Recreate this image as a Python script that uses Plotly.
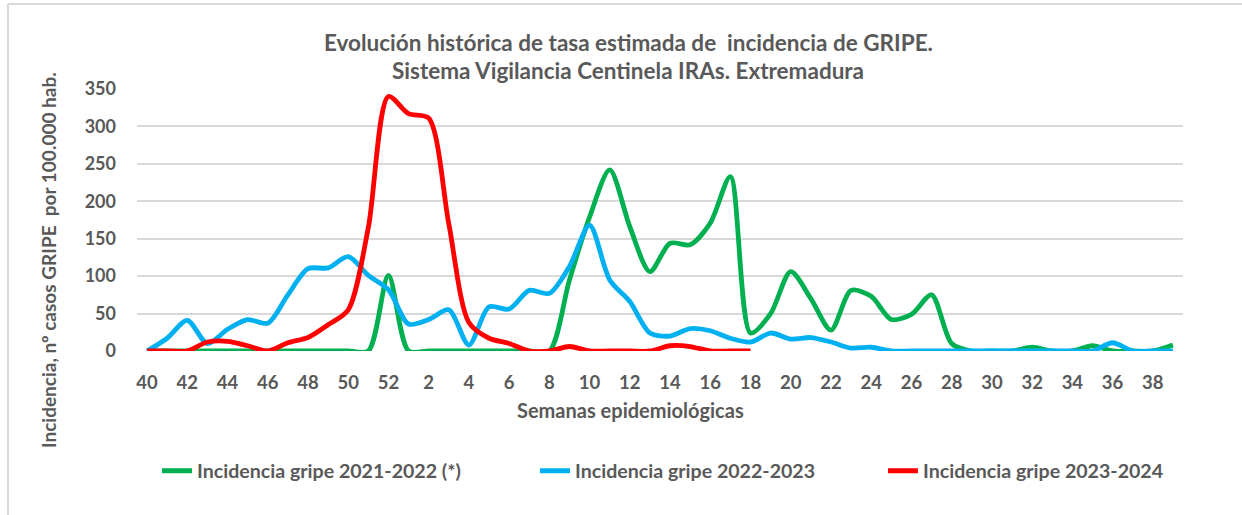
import plotly.graph_objects as go

weeks = [str(w) for w in list(range(40, 53)) + list(range(1, 40))]
tick_labels = [w for k, w in enumerate(weeks) if k % 2 == 0]

gripe_2021_2022 = [0, 0, 0, 0, 0, 0, 0, 0, 0, 0, 0, 0, 101, 0, 0, 0, 0, 0, 0, 0,
                   0, 95, 179, 242, 166, 106, 144, 142, 171, 233, 24, 50, 106, 70, 28, 81,
                   73, 42, 49, 75, 10, 0, 0, 0, 5, 0, 0, 7, 0, 0, 0, 8]
gripe_2022_2023 = [0, 17, 41, 10, 29, 42, 37, 75, 110, 111, 126, 101, 82, 36, 42, 55,
                   8, 59, 56, 81, 77, 113, 168, 95, 66, 24, 20, 30, 27, 17, 12, 24, 16,
                   18, 12, 4, 5, 0, 0, 0, 0, 0, 0, 0, 0, 0, 0, 0, 11, 0, 0, 0]
gripe_2023_2024 = [0, 0, 0, 12, 13, 7, 0, 11, 18, 35, 55, 165, 340, 317, 311, 170, 38,
                   17, 10, 0, 0, 6, 0, 0, 0, 0, 7, 6, 0, 0, 0]

series_names = ["Incidencia gripe 2021-2022 (*)", "Incidencia gripe 2022-2023",
                "Incidencia gripe 2023-2024"]
colors = ["#00b050", "#00b0f0", "#ff0000"]

W, H = 1242, 515
L, R, T, B = 137, 59, 89, 164
PW, PH = W - L - R, H - T - B


def px(x):
    return (x - L) / PW


def py(y):
    return (H - B - y) / PH


TXT = "#595959"
FONT = "Lato"

fig = go.Figure()
data = [gripe_2021_2022, gripe_2022_2023, gripe_2023_2024]
legend_ids = ["legend", "legend2", "legend3"]
for name, vals, col, lg in zip(series_names, data, colors, legend_ids):
    fig.add_trace(go.Scatter(
        x=weeks[:len(vals)], y=vals, name=name, mode="lines",
        line=dict(color=col, width=4.8, shape="spline", smoothing=0.8),
        legend=lg, hoverinfo="x+y+name"))

legend_common = dict(orientation="h", yanchor="middle", xanchor="left",
                     xref="container", yref="container",
                     bgcolor="rgba(0,0,0,0)",
                     font=dict(family=FONT, size=19.6, color=TXT, weight="bold"))
fig.update_layout(
    width=W, height=H,
    margin=dict(l=L, r=R, t=T, b=B, autoexpand=False),
    paper_bgcolor="white", plot_bgcolor="white",
    font=dict(family=FONT, color=TXT),
    legend=dict(x=157 / W, y=1 - 471 / H, **legend_common),
    legend2=dict(x=535 / W, y=1 - 471 / H, **legend_common),
    legend3=dict(x=883 / W, y=1 - 471 / H, **legend_common),
    xaxis=dict(type="category", range=[-0.5, len(weeks) - 0.5], automargin=False,
               tickmode="array", tickvals=tick_labels, ticktext=tick_labels,
               showgrid=False, zeroline=False, showline=False, ticks="",
               tickfont=dict(family=FONT, size=18.5, color=TXT, weight="bold"),
               ticklabelstandoff=18),
    yaxis=dict(range=[0, 350], tickvals=[0, 50, 100, 150, 200, 250, 300, 350],
               automargin=False,
               showgrid=True, gridcolor="#d9d9d9", gridwidth=1.5,
               zeroline=False, showline=False, ticks="",
               tickfont=dict(family=FONT, size=18, color=TXT, weight="bold"),
               ticklabelstandoff=20),
    showlegend=True,
)

annotations = [
    dict(text="Evolución histórica de tasa estimada de  incidencia de GRIPE.",
         x=px(628), y=py(42), size=22.5),
    dict(text="Sistema Vigilancia Centinela IRAs. Extremadura",
         x=px(628), y=py(70), size=22.5),
    dict(text="Semanas epidemiológicas", x=px(630), y=py(410), size=20),
]
for a in annotations:
    fig.add_annotation(text=a["text"], x=a["x"], y=a["y"], xref="paper", yref="paper",
                       showarrow=False, xanchor="center", yanchor="middle",
                       font=dict(family=FONT, size=a["size"], color=TXT, weight="bold"))
fig.add_annotation(text="Incidencia, nº casos GRIPE  por 100.000 hab.",
                   x=px(48), y=py(260), xref="paper", yref="paper", showarrow=False,
                   textangle=-90, xanchor="center", yanchor="middle",
                   font=dict(family=FONT, size=19, color=TXT, weight="bold"))

# chart border (left and top edges visible)
fig.add_shape(type="line", xref="paper", yref="paper",
              x0=px(8), y0=py(4), x1=px(1250), y1=py(4),
              line=dict(color="#d9d9d9", width=2))
fig.add_shape(type="line", xref="paper", yref="paper",
              x0=px(8), y0=py(4), x1=px(8), y1=py(520),
              line=dict(color="#d9d9d9", width=2))

fig.write_html("out.html", config={"displayModeBar": False},
               post_script="document.body.style.margin='0px';")
